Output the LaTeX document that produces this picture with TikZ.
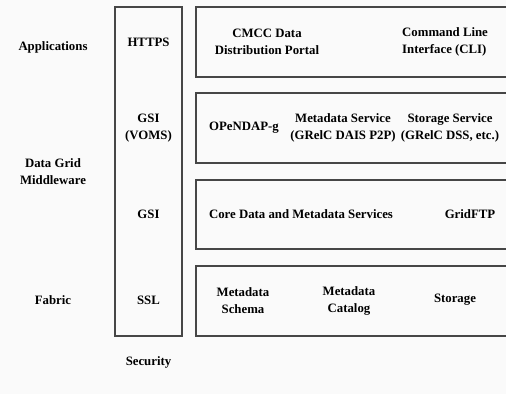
\documentclass[tikz,border=0pt]{standalone}
\usepackage{fontspec}
\setmainfont{Liberation Serif}
\usetikzlibrary{positioning}

\definecolor{bgpaper}{RGB}{250,250,250}
\definecolor{boxline}{RGB}{70,70,70}

\tikzset{
    layerbox/.style={rectangle, draw=boxline, line width=1.1pt, inner sep=0pt},
    lbl/.style={align=center, inner sep=1pt, font=\fontsize{12.8}{17}\selectfont\bfseries}
}

\begin{document}
\begin{tikzpicture}[x=1pt, y=-1pt]
    \fill[bgpaper] (0,0) rectangle (506,394);
    \clip (0,0) rectangle (506,394);
    \useasboundingbox (0,0) rectangle (506,394);

    % layer names
    \node (apps) [lbl] at (53,47) {Applications};
    \node (middleware) [lbl] at (53,172) {Data Grid\\Middleware};
    \node (fabric) [lbl] at (53,300) {Fabric};

    % security column
    \node (security) [layerbox, minimum width=67pt, minimum height=329pt] at (148.5,171.5) {};
    \node (https) [lbl] at (148.5,42) {HTTPS};
    \node (voms) [lbl] at (148.5,128) {GSI\\(VOMS)};
    \node (gsi) [lbl] at (148.5,214) {GSI};
    \node (ssl) [lbl] at (148.5,300) {SSL};
    \node (seclabel) [lbl] at (148.5,362) {Security};

    % layers
    \node (applayer) [layerbox, minimum width=330pt, minimum height=70pt] at (361,42) {};
    \node (servlayer) [layerbox, minimum width=330pt, minimum height=70pt] at (361,128) {};
    \node (corelayer) [layerbox, minimum width=330pt, minimum height=69pt] at (361,214.5) {};
    \node (fablayer) [layerbox, minimum width=330pt, minimum height=70pt] at (361,301) {};

    \node (portal) [lbl] at (267,42) {CMCC Data\\Distribution Portal};
    \node (cli) [lbl, align=left, anchor=west] at (401,42) {Command Line\\Interface (CLI)};

    \node (opendap) [lbl] at (244,128) {OPeNDAP-g};
    \node (metaserv) [lbl] at (343,128) {Metadata Service\\(GRelC DAIS P2P)};
    \node (storserv) [lbl] at (450,128) {Storage Service\\(GRelC DSS, etc.)};

    \node (coreserv) [lbl] at (301,214) {Core Data and Metadata Services};
    \node (gridftp) [lbl] at (470,214) {GridFTP};

    \node (schema) [lbl] at (243,300.5) {Metadata\\Schema};
    \node (catalog) [lbl] at (349,300.5) {Metadata\\Catalog};
    \node (storage) [lbl] at (455,300) {Storage};
\end{tikzpicture}
\end{document}
